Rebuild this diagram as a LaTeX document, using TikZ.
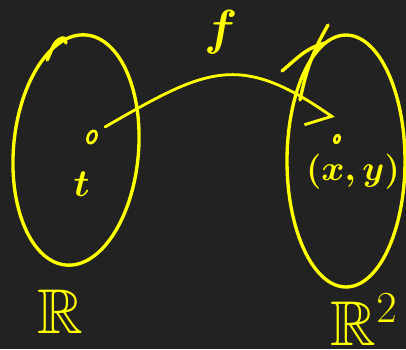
\RequirePackage{fix-cm}
\documentclass[tikz,border=0pt]{standalone}
\usepackage{amssymb}
\usetikzlibrary{positioning, arrows.meta, shapes.geometric}
\definecolor{boardc}{HTML}{222222}
\definecolor{chalkc}{HTML}{FFFF00}

\begin{document}
\begin{tikzpicture}[x=0.02cm, y=0.02cm,
      line cap=round,
      set/.style={ellipse, draw=chalkc, line width=1.9pt, inner sep=0pt},
      dot/.style={ellipse, draw=chalkc, line width=1.5pt, inner sep=0pt},
      lab/.style={text=chalkc, inner sep=0pt, font=\boldmath\fontsize{22}{26}\selectfont},
      big/.style={text=chalkc, inner sep=0pt, font=\fontsize{36}{40}\selectfont},
      arr/.style={-{Straight Barb[right, length=3.5mm, width=9mm]}, draw=chalkc,
                  line width=1.6pt},
      pen/.style={draw=chalkc, line width=1.9pt},
      node distance=5mm]
    \path[use as bounding box, fill=boardc] (0,0) rectangle (406,-349);
    \node[set, rotate=-5, minimum width=2.5cm, minimum height=4.62cm] (dom) at (76,-150) {};
    \node[set, minimum width=2.36cm, minimum height=5.04cm] (cod) at (346,-161) {};
    \node[dot, rotate=-25, minimum width=0.16cm, minimum height=0.26cm] (pt) at (92,-137) {};
    \node[dot, rotate=-20, minimum width=0.1cm, minimum height=0.16cm] (pxy) at (337,-139) {};
    \node[lab, below=0.55cm of pt, xshift=-0.14cm] (tl) {$t$};
    \node[lab, font=\boldmath\fontsize{20}{24}\selectfont] (xyl) at (353,-172) {$(x,y)$};
    \node[big] (rl) at (60,-312) {$\mathbb{R}$};
    \node[big] (rtl) at (364,-320) {$\mathbb{R}^2$};
    \draw[arr] ([shift={(0.26cm,0.2cm)}]pt.center) to[out=30, in=145, looseness=1.3]
      node[lab, pos=0.5, above=0.4cm, font=\boldmath\fontsize{28}{32}\selectfont] (fl) {$f$}
      ([shift={(-0.06cm,0.42cm)}]pxy.center);
    % pen overlaps where the sets were closed
    \draw[pen] (47,-60) to[out=60, in=200] (62,-38) to[out=20, in=90] (66,-43);
    \draw[pen] (282,-71) to[out=40, in=195] (325,-43);
    \draw[pen] (300,-100) to[out=78, in=240] (328,-25);
  \end{tikzpicture}
\end{document}
